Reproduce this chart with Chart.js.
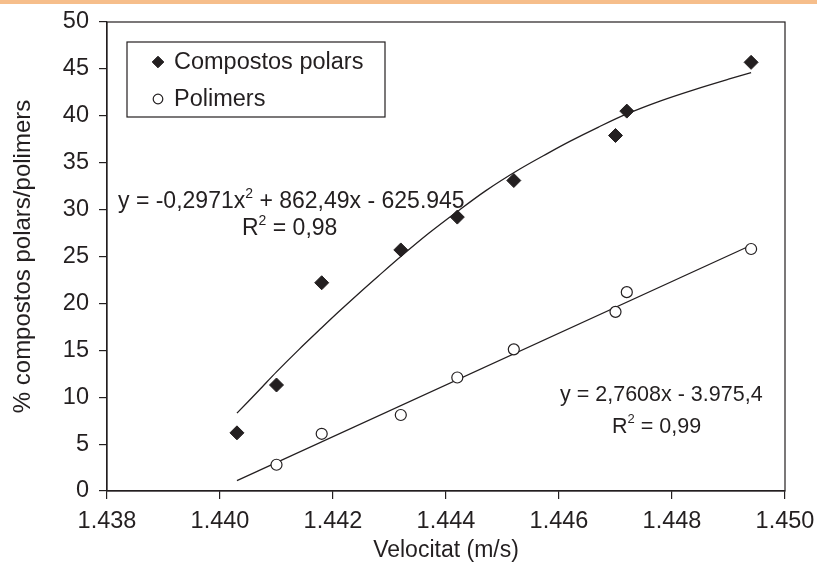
<!DOCTYPE html>
<html><head><meta charset="utf-8">
<script src="https://cdn.jsdelivr.net/npm/chart.js@4/dist/chart.umd.min.js"></script>
<style>
html,body{margin:0;padding:0;background:#fff;}
body{width:817px;height:565px;overflow:hidden;position:relative;}
#bar{position:absolute;left:0;top:0;width:817px;height:4px;background:#F6BE8B;}
#wrap{position:absolute;left:0;top:0;width:817px;height:565px;}
</style></head><body>
<div id="wrap"><canvas id="c" width="817" height="565"></canvas></div>
<div id="bar"></div>
<script>
// ---- data ----
const seriesLabels = ['Compostos polars', 'Polimers'];
const velocitatPolars = [1.4403, 1.4410, 1.4418, 1.4432, 1.4442, 1.4452, 1.4470, 1.4472, 1.4494];
const compostosPolars = [6.2, 11.3, 22.2, 25.7, 29.2, 33.1, 37.9, 40.5, 45.7];
const velocitatPolimers = [1.4410, 1.4418, 1.4432, 1.4442, 1.4452, 1.4470, 1.4472, 1.4494];
const polimers = [2.8, 6.1, 8.1, 12.1, 15.1, 19.1, 21.2, 25.8];
// trend lines as traced on the picture
const trendPolarsX = [1.4403, 1.4407, 1.4410, 1.4414, 1.4418, 1.4421, 1.4425, 1.4428, 1.4432, 1.4437, 1.4442,
                      1.4447, 1.4453, 1.4458, 1.4462, 1.4467, 1.4472, 1.4478, 1.4484, 1.4490, 1.4494];
const trendPolarsY = [8.3, 10.8, 12.7, 15.1, 17.4, 19.1, 21.3, 22.9, 25.0, 27.5, 29.8,
                      32.0, 34.3, 36.0, 37.3, 38.8, 40.2, 41.6, 42.8, 43.9, 44.6];
const trendPolimersX = [1.4403, 1.4494];
const trendPolimersY = [1.1, 26.2];
const xTicks = [1.438, 1.440, 1.442, 1.444, 1.446, 1.448, 1.450];
const yTicks = [0, 5, 10, 15, 20, 25, 30, 35, 40, 45, 50];
const xTitle = 'Velocitat (m/s)';
const yTitle = '% compostos polars/polimers';
const eqPolars = ['y = -0,2971x', '2', ' + 862,49x - 625.945'];
const r2Polars = ['R', '2', ' = 0,98'];
const eqPolimers = ['y = 2,7608x - 3.975,4'];
const r2Polimers = ['R', '2', ' = 0,99'];

const ink = '#231f20';
const FAM = '"Liberation Sans", Arial, Helvetica, sans-serif';
const pts = (xs, ys) => xs.map((x, i) => ({x: x, y: ys[i]}));

function drawRich(ctx, parts, x, y, size) {
  ctx.save();
  ctx.fillStyle = ink;
  ctx.textBaseline = 'alphabetic';
  ctx.textAlign = 'left';
  let cx = x;
  parts.forEach((p, i) => {
    const sup = i % 2 === 1;
    const fs = sup ? Math.round(size * 0.62) : size;
    ctx.font = fs + 'px ' + FAM;
    ctx.fillText(p, cx, sup ? y - size * 0.45 : y);
    cx += ctx.measureText(p).width;
  });
  ctx.restore();
}

const frameAndNotes = {
  id: 'frameAndNotes',
  beforeDatasetsDraw(chart) {
    const {ctx, chartArea: a} = chart;
    ctx.save();
    ctx.strokeStyle = ink; ctx.lineWidth = 1.2;
    ctx.strokeRect(a.left, a.top, a.right - a.left, a.bottom - a.top);
    ctx.restore();
  },
  afterDraw(chart) {
    const ctx = chart.ctx;
    drawRich(ctx, eqPolars, 118, 208, 23);
    drawRich(ctx, r2Polars, 242, 235, 23);
    drawRich(ctx, eqPolimers, 560, 401, 21.5);
    drawRich(ctx, r2Polimers, 612, 433, 21.5);
    ctx.save();
    ctx.fillStyle = '#fff';
    ctx.fillRect(127, 42, 258, 75);
    ctx.strokeStyle = ink; ctx.lineWidth = 1.2;
    ctx.strokeRect(127, 42, 258, 75);
    const ds = chart.data.datasets;
    const rows = [[ds[0], 62, 5.8], [ds[1], 99, 4.8]];
    rows.forEach(([d, yy, r]) => {
      ctx.fillStyle = d.backgroundColor; ctx.strokeStyle = d.borderColor; ctx.lineWidth = d.borderWidth;
      Chart.helpers.drawPoint(ctx, {pointStyle: d.pointStyle, radius: r, rotation: 0, borderWidth: d.borderWidth}, 158, yy);
      ctx.fillStyle = ink;
      ctx.font = '23.5px ' + FAM;
      ctx.textBaseline = 'middle';
      ctx.fillText(d.label, 174, yy + 1);
    });
    ctx.restore();
  }
};

new Chart(document.getElementById('c'), {
  type: 'scatter',
  data: {
    datasets: [
      {label: seriesLabels[0], data: pts(velocitatPolars, compostosPolars), pointStyle: 'rectRot', pointRadius: 7,
       backgroundColor: ink, borderColor: ink, borderWidth: 1, order: 0},
      {label: seriesLabels[1], data: pts(velocitatPolimers, polimers), pointStyle: 'circle', pointRadius: 5.5,
       backgroundColor: '#fff', borderColor: ink, borderWidth: 1.2, order: 0},
      {label: 'trend polars', data: pts(trendPolarsX, trendPolarsY), showLine: true, pointRadius: 0,
       borderColor: ink, borderWidth: 1.3, tension: 0.3, order: 1},
      {label: 'trend polimers', data: pts(trendPolimersX, trendPolimersY), showLine: true, pointRadius: 0,
       borderColor: ink, borderWidth: 1.3, order: 1}
    ]
  },
  options: {
    responsive: false, animation: false, devicePixelRatio: 1,
    layout: {padding: {left: 0, right: 32, top: 22, bottom: 0}},
    plugins: {legend: {display: false}, tooltip: {enabled: false}},
    scales: {
      x: {
        type: 'linear', min: 1.438, max: 1.450,
        afterBuildTicks: s => { s.ticks = xTicks.map(v => ({value: v})); },
        afterFit: s => { s.height = 74; s.paddingLeft = 0; s.paddingRight = 0; },
        ticks: {callback: v => Number(v).toFixed(3), font: {family: FAM, size: 23.5}, color: ink, padding: 8, maxRotation: 0, autoSkip: false},
        grid: {drawOnChartArea: false, drawTicks: true, tickLength: 8, color: ink, lineWidth: 1.2},
        border: {display: true, color: ink, width: 1.2},
        title: {display: true, text: xTitle, font: {family: FAM, size: 23}, color: ink, padding: {top: 0, bottom: 1}}
      },
      y: {
        min: 0, max: 50,
        afterBuildTicks: s => { s.ticks = yTicks.map(v => ({value: v})); },
        afterFit: s => { s.width = 107; s.paddingTop = 0; s.paddingBottom = 0; },
        ticks: {font: {family: FAM, size: 23.5}, color: ink, padding: 10, autoSkip: false},
        grid: {drawOnChartArea: false, drawTicks: true, tickLength: 8, color: ink, lineWidth: 1.2},
        border: {display: true, color: ink, width: 1.2},
        title: {display: true, text: yTitle, font: {family: FAM, size: 24}, color: ink, padding: {top: 9, bottom: 0}}
      }
    }
  },
  plugins: [frameAndNotes]
});
</script>
</body></html>
